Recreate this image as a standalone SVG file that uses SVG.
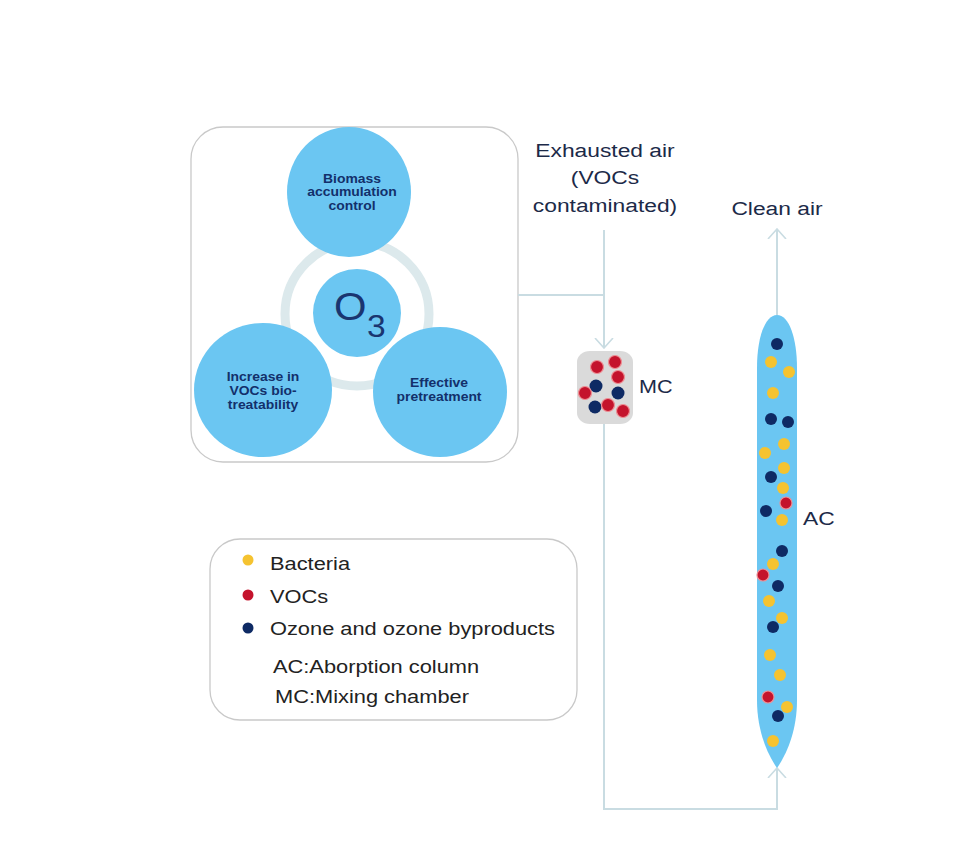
<svg xmlns="http://www.w3.org/2000/svg" width="980" height="846" viewBox="0 0 980 846">
<style>
.t{font-family:"Liberation Sans",Arial,sans-serif;fill:#1c2a48}
.cb{font-family:"Liberation Sans",Arial,sans-serif;font-weight:bold;font-size:12px;fill:#13306b}
.lg{font-family:"Liberation Sans",Arial,sans-serif;font-size:18.5px;fill:#222}
.bub{fill:#6bc6f2}
.conn{fill:none;stroke:#c9dce2;stroke-width:2}
.y{fill:#f5c330}
.r{fill:#c4132c;stroke:#ee8f94;stroke-width:1.2}
.n{fill:#0e2a64}
</style>
<defs>
<marker id="chev" viewBox="0 0 11 20" refX="10" refY="10" markerWidth="11" markerHeight="20" markerUnits="userSpaceOnUse" orient="auto">
<path d="M0,1 L10,10 L0,19" fill="none" stroke="#c9dce2" stroke-width="1.6"/>
</marker>
</defs>
<rect width="980" height="846" fill="#fff"/>

<g id="o3-panel">
<rect x="191" y="127" width="327" height="335" rx="32" fill="#fff" stroke="#c9c9c9" stroke-width="1.3"/>
<circle cx="357" cy="314" r="72" fill="none" stroke="#dce9ec" stroke-width="9"/>
</g>
<g id="node-biomass">
<ellipse class="bub" cx="349" cy="192" rx="62" ry="65"/>
<text class="cb" transform="translate(352,183) scale(1.16,1)" text-anchor="middle"><tspan x="0" y="0">Biomass</tspan><tspan x="0" y="13.5">accumulation</tspan><tspan x="0" y="27">control</tspan></text>
</g>
<g id="node-increase">
<ellipse class="bub" cx="263" cy="390" rx="69" ry="67"/>
<text class="cb" transform="translate(263,381) scale(1.16,1)" text-anchor="middle"><tspan x="0" y="0">Increase in</tspan><tspan x="0" y="14">VOCs bio-</tspan><tspan x="0" y="28">treatability</tspan></text>
</g>
<g id="node-effective">
<ellipse class="bub" cx="440" cy="392" rx="67" ry="65"/>
<text class="cb" transform="translate(439,387) scale(1.16,1)" text-anchor="middle"><tspan x="0" y="0">Effective</tspan><tspan x="0" y="14">pretreatment</tspan></text>
</g>
<g id="node-o3">
<circle class="bub" cx="357" cy="313" r="44"/>
<text class="t" transform="translate(334,320) scale(1.1,1)" font-size="38" style="fill:#1a3570">O</text>
<text class="t" transform="translate(367,337) scale(1.05,1)" font-size="32" style="fill:#1a3570">3</text>
</g>

<g id="connectors">
<path class="conn" d="M518,295 L604,295"/>
<path class="conn" d="M604,230 L604,348" marker-end="url(#chev)"/>
<path class="conn" d="M604,424 L604,809 L777,809 L777,768" marker-end="url(#chev)"/>
<path class="conn" d="M777,315 L777,229" marker-end="url(#chev)"/>
</g>

<g id="label-exhausted">
<text class="t" font-size="19" transform="translate(605,157) scale(1.2,1)" text-anchor="middle"><tspan x="0" y="0">Exhausted air</tspan><tspan x="0" y="27">(VOCs</tspan><tspan x="0" y="55">contaminated)</tspan></text>
</g>
<g id="label-clean">
<text class="t" font-size="19" transform="translate(777,215) scale(1.2,1)" text-anchor="middle">Clean air</text>
</g>

<g id="node-mc">
<rect x="577" y="351" width="56" height="73" rx="13" ry="11" fill="#dadada"/>
<circle class="r" cx="597" cy="367" r="6.5"/>
<circle class="r" cx="615" cy="362" r="6.5"/>
<circle class="r" cx="618" cy="377" r="6.5"/>
<circle class="n" cx="596" cy="386" r="6.5"/>
<circle class="r" cx="585" cy="393" r="6.5"/>
<circle class="n" cx="618" cy="393" r="6.5"/>
<circle class="n" cx="595" cy="407" r="6.5"/>
<circle class="r" cx="608" cy="405" r="6.5"/>
<circle class="r" cx="623" cy="411" r="6.5"/>
<text class="t" font-size="18" transform="translate(639,393) scale(1.2,1)">MC</text>
</g>

<g id="node-ac">
<path d="M777,315 C789,315 797,338 797,368 L797,700 C797,732 786,755 777,768 C768,755 757,732 757,700 L757,368 C757,338 765,315 777,315 Z" fill="#6bc6f2"/>
<circle class="n" cx="777" cy="344" r="6"/>
<circle class="y" cx="771" cy="362" r="6"/>
<circle class="y" cx="789" cy="372" r="6"/>
<circle class="y" cx="773" cy="393" r="6"/>
<circle class="n" cx="771" cy="419" r="6"/>
<circle class="n" cx="788" cy="422" r="6"/>
<circle class="y" cx="784" cy="444" r="6"/>
<circle class="y" cx="765" cy="453" r="6"/>
<circle class="y" cx="784" cy="468" r="6"/>
<circle class="n" cx="771" cy="477" r="6"/>
<circle class="y" cx="783" cy="488" r="6"/>
<circle class="r" cx="786" cy="503" r="6"/>
<circle class="n" cx="766" cy="511" r="6"/>
<circle class="y" cx="782" cy="520" r="6"/>
<circle class="n" cx="782" cy="551" r="6"/>
<circle class="y" cx="773" cy="564" r="6"/>
<circle class="r" cx="763" cy="575" r="6"/>
<circle class="n" cx="778" cy="586" r="6"/>
<circle class="y" cx="769" cy="601" r="6"/>
<circle class="y" cx="782" cy="618" r="6"/>
<circle class="n" cx="773" cy="627" r="6"/>
<circle class="y" cx="770" cy="655" r="6"/>
<circle class="y" cx="780" cy="675" r="6"/>
<circle class="r" cx="768" cy="697" r="6"/>
<circle class="y" cx="787" cy="707" r="6"/>
<circle class="n" cx="778" cy="716" r="6"/>
<circle class="y" cx="773" cy="741" r="6"/>
<text class="t" font-size="19" transform="translate(803,525) scale(1.2,1)">AC</text>
</g>

<g id="legend">
<rect x="210" y="539" width="367" height="181" rx="30" fill="#fff" stroke="#c9c9c9" stroke-width="1.3"/>
<circle class="y" cx="248" cy="560" r="5.5"/>
<circle cx="248" cy="595" r="5.5" fill="#c4132c"/>
<circle class="n" cx="248" cy="628" r="5.5"/>
<text class="lg" transform="translate(270,570) scale(1.18,1)">Bacteria</text>
<text class="lg" transform="translate(270,603) scale(1.18,1)">VOCs</text>
<text class="lg" transform="translate(270,635) scale(1.18,1)">Ozone and ozone byproducts</text>
<text class="lg" transform="translate(273,673) scale(1.18,1)">AC:Aborption column</text>
<text class="lg" transform="translate(275,703) scale(1.18,1)">MC:Mixing chamber</text>
</g>
</svg>
